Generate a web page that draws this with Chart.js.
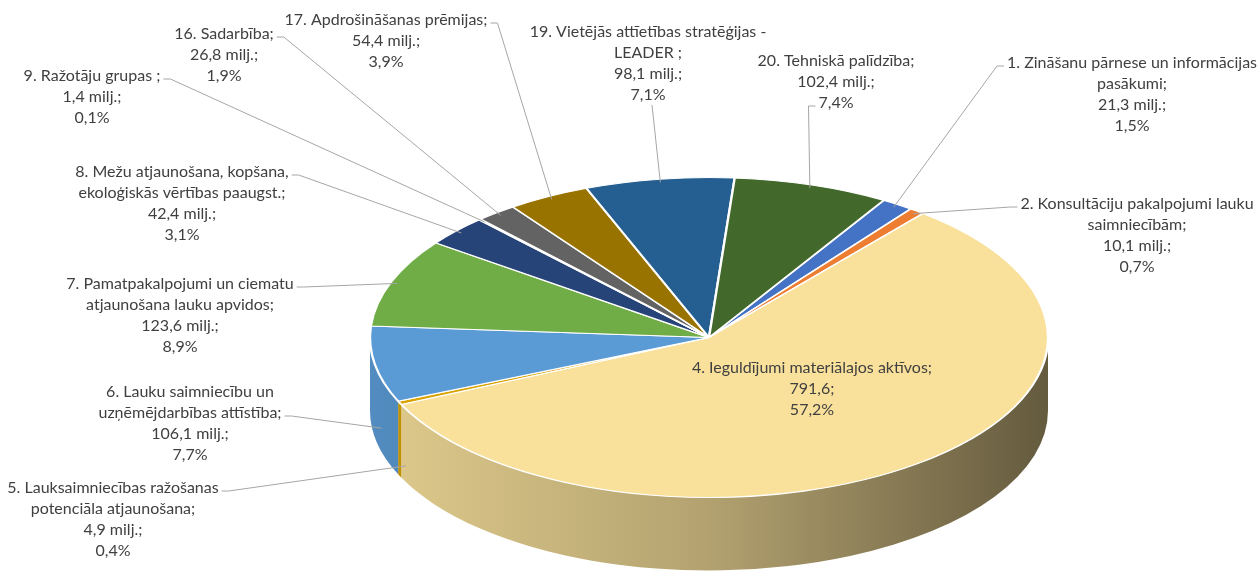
<!DOCTYPE html>
<html>
<head>
<meta charset="utf-8">
<script src="https://cdn.jsdelivr.net/npm/chart.js@4.4.1/dist/chart.umd.min.js"></script>
<style>
  html, body { margin: 0; padding: 0; background: #fff; overflow: hidden; }
</style>
</head>
<body>
<canvas id="pie" width="1260" height="574"></canvas>
<script>
const categories = [
  '1. Zināšanu pārnese un informācijas\npasākumi',
  '2. Konsultāciju pakalpojumi lauku\nsaimniecībām',
  '4. Ieguldījumi materiālajos aktīvos',
  '5. Lauksaimniecības ražošanas\npotenciāla atjaunošana',
  '6. Lauku saimniecību un\nuzņēmējdarbības attīstība',
  '7. Pamatpakalpojumi un ciematu\natjaunošana lauku apvidos',
  '8. Mežu atjaunošana, kopšana,\nekoloģiskās vērtības paaugst.',
  '9. Ražotāju grupas ',
  '16. Sadarbība',
  '17. Apdrošināšanas prēmijas',
  '19. Vietējās attīetības stratēģijas -\nLEADER ',
  '20. Tehniskā palīdzība'
];
const values = [21.3, 10.1, 791.6, 4.9, 106.1, 123.6, 42.4, 1.4, 26.8, 54.4, 98.1, 102.4];
const units = [' milj.', ' milj.', '', ' milj.', ' milj.', ' milj.', ' milj.', ' milj.', ' milj.', ' milj.', ' milj.', ' milj.'];
const colors = ['#4472C4', '#ED7D31', '#F9E19B', '#D9A300', '#5B9BD5', '#70AD47',
                '#264478', '#9E480E', '#636363', '#997300', '#255E91', '#43682B'];

// where each label sits: text centre x, first line y, leader start (R/L = right/left end of line k, B = below, N = none)
const labelPos = [
  [1132, 63, 'L', 0], [1137, 204, 'L', 0], [812, 368, 'N', 0], [113, 488, 'R', 0],
  [190, 392, 'R', 1], [180, 284, 'R', 0], [182, 172, 'R', 0], [92, 76, 'R', 0],
  [224, 34, 'R', 0], [386, 20, 'R', 0], [648, 32, 'B', 0], [836, 61, 'L', 2]
];

// on-page ellipse of the tilted pie
const pieCx = 709, pieCy = 337.5, pieRx = 339, pieRy = 160, pieDepth = 73;
const total = values.reduce((a, b) => a + b, 0);
const fmt = v => v.toFixed(1).replace('.', ',');

function shade(hex, f) {
  const n = parseInt(hex.slice(1), 16);
  const r = Math.round(((n >> 16) & 255) * f), g = Math.round(((n >> 8) & 255) * f), b = Math.round((n & 255) * f);
  return `rgb(${r},${g},${b})`;
}

const pie3d = {
  id: 'pie3d',
  beforeDatasetsDraw(chart) {
    const ctx = chart.ctx;
    const arcs = chart.getDatasetMeta(0).data;
    const TAU = Math.PI * 2;
    // front wall of the cylinder
    arcs.forEach((a, i) => {
      for (let k = -1; k <= 2; k++) {
        const lo = Math.max(a.startAngle, k * TAU) - k * TAU;
        const hi = Math.min(a.endAngle, k * TAU + Math.PI) - k * TAU;
        if (hi <= lo) continue;
        ctx.beginPath();
        ctx.ellipse(pieCx, pieCy, pieRx, pieRy, 0, lo, hi);
        ctx.ellipse(pieCx, pieCy + pieDepth, pieRx, pieRy, 0, hi, lo, true);
        ctx.closePath();
        const g = ctx.createLinearGradient(pieCx - pieRx, 0, pieCx + pieRx, 0);
        g.addColorStop(0, shade(colors[i], 0.9));
        g.addColorStop(0.5, shade(colors[i], 0.72));
        g.addColorStop(1, shade(colors[i], 0.4));
        ctx.fillStyle = g;
        ctx.fill();
      }
    });
    // squash the round pie into the ellipse
    const a = arcs[0];
    ctx.save();
    ctx.translate(pieCx, pieCy);
    ctx.scale(pieRx / a.outerRadius, pieRy / a.outerRadius);
    ctx.translate(-a.x, -a.y);
  },
  afterDatasetsDraw(chart) {
    chart.ctx.restore();
  }
};

const pieLabels = {
  id: 'pieLabels',
  afterDraw(chart) {
    const ctx = chart.ctx;
    const arcs = chart.getDatasetMeta(0).data;
    const lh = 21;
    ctx.save();
    ctx.font = '16px Lato';
    ctx.textAlign = 'center';
    ctx.textBaseline = 'middle';
    arcs.forEach((a, i) => {
      const lines = categories[i].split('\n');
      lines[lines.length - 1] += ';';
      lines.push(fmt(values[i]) + units[i] + ';');
      lines.push(fmt(values[i] / total * 100) + '%');
      const [x, y, side, k] = labelPos[i];
      ctx.fillStyle = '#404040';
      lines.forEach((t, j) => ctx.fillText(t, x, y + j * lh));
      if (side === 'N') return;

      const m = (a.startAngle + a.endAngle) / 2;
      let tx = pieCx + pieRx * 0.98 * Math.cos(m);
      let ty = pieCy + pieRy * 0.98 * Math.sin(m);
      if (Math.sin(m) > 0.05) ty += pieDepth * 0.88;

      const w = ctx.measureText(lines[k]).width;
      const ly = y + k * lh + 3;
      ctx.strokeStyle = '#a6a6a6';
      ctx.lineWidth = 1;
      ctx.beginPath();
      if (side === 'R') {
        ctx.moveTo(x + w / 2 + 3, ly);
        ctx.lineTo(x + w / 2 + 10, ly);
      } else if (side === 'L') {
        ctx.moveTo(x - w / 2 - 3, ly);
        ctx.lineTo(x - w / 2 - 10, ly);
      } else {
        ctx.moveTo(x + 4, y + (lines.length - 1) * lh + 10);
      }
      ctx.lineTo(tx, ty);
      ctx.stroke();
    });
    ctx.restore();
  }
};

new Chart(document.getElementById('pie'), {
  type: 'pie',
  data: {
    labels: categories,
    datasets: [{
      data: values,
      backgroundColor: colors,
      borderColor: '#ffffff',
      borderWidth: 2,
      clip: false
    }]
  },
  options: {
    responsive: false,
    animation: false,
    rotation: 31,
    events: [],
    layout: { padding: 0 },
    plugins: {
      legend: { display: false },
      tooltip: { enabled: false }
    }
  },
  plugins: [pie3d, pieLabels]
});
</script>
</body>
</html>
